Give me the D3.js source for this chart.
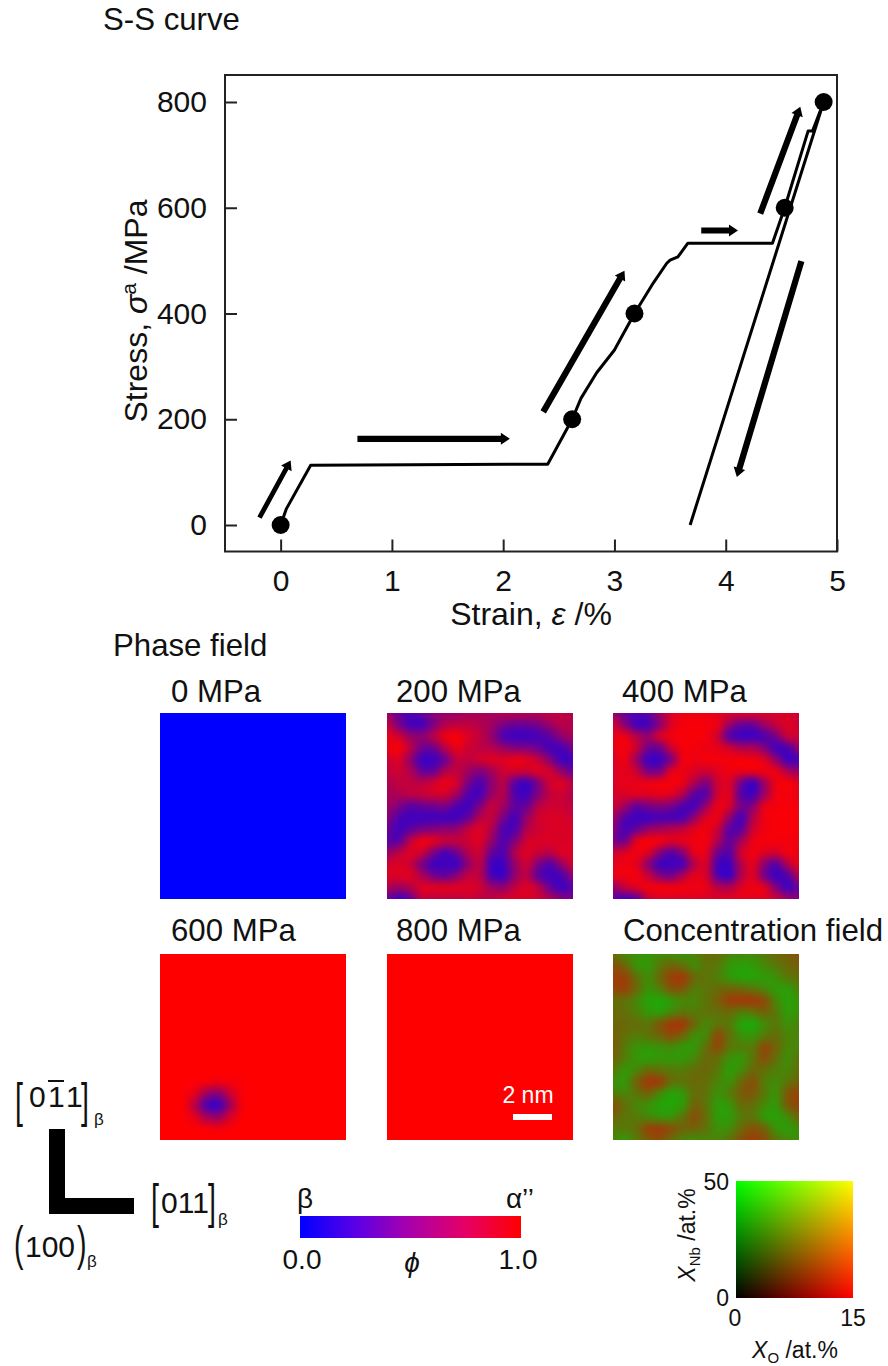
<!DOCTYPE html>
<html><head><meta charset="utf-8">
<script src="https://cdn.jsdelivr.net/npm/d3@7/dist/d3.min.js"></script>
<style>html,body{margin:0;padding:0;background:#fff}svg{display:block}text{font-family:"Liberation Sans",Arial,sans-serif;fill:#111}</style>
</head><body><svg id="c" width="888" height="1366"></svg>
<script>
// ---------- data ----------
const xTicks = [0,1,2,3,4,5];
const yTicks = [0,200,400,600,800];
const curveStrain = [0,0.05,0.27,2.40,2.62,2.70,2.84,3.00,3.06,3.18,3.35,3.47,3.50,3.57,3.66,4.42,4.53,4.74,4.78,4.88,3.68];
const curveStress = [0,30,113,115,200,240,288,331,354,400,458,495,501,507,533,533,600,745,745,800,0];
const pointStrain = [0,2.62,3.18,4.53,4.88];
const pointStress = [0,200,400,600,800];
const arrowFromStrain = [-0.19,0.69,2.36,3.78,4.31,4.68];
const arrowFromStress = [14,163,214,557,589,499];
const arrowToStrain = [0.09,2.06,3.09,4.11,4.67,4.10];
const arrowToStress = [122,163,481,557,791,91];
const phase0 = [[0]];
const phase800 = [[1]];
const phase200 = [
[.60,.42,.32,.38,.52,.58,.60,.65,.65,.65,.70,.70,.70,.70,.75,.75,.70],
[.75,.50,.30,.30,.50,.70,.75,.75,.70,.62,.48,.42,.42,.48,.60,.70,.70],
[.90,.80,.60,.55,.70,.90,.95,.85,.75,.58,.33,.27,.27,.30,.38,.55,.65],
[.90,.95,.72,.45,.45,.72,.90,.80,.75,.70,.60,.52,.50,.42,.30,.30,.45],
[.80,.85,.58,.28,.27,.45,.75,.75,.80,.85,.85,.90,.85,.75,.52,.28,.28],
[.75,.80,.68,.42,.42,.68,.75,.62,.52,.65,.80,.80,.78,.85,.80,.58,.42],
[.70,.75,.75,.72,.80,.90,.80,.48,.33,.55,.70,.38,.28,.52,.80,.85,.70],
[.65,.68,.72,.75,.80,.80,.62,.33,.30,.60,.68,.33,.28,.52,.75,.80,.70],
[.62,.50,.38,.42,.45,.48,.33,.28,.50,.75,.62,.38,.42,.70,.80,.80,.75],
[.52,.33,.27,.27,.28,.28,.28,.42,.70,.75,.48,.30,.58,.80,.85,.85,.80],
[.42,.28,.38,.48,.52,.55,.58,.75,.85,.68,.33,.33,.68,.80,.85,.85,.85],
[.38,.38,.72,.90,.85,.75,.75,.80,.85,.58,.33,.52,.80,.85,.85,.85,.85],
[.60,.72,.85,.78,.50,.33,.45,.70,.78,.42,.33,.68,.85,.78,.72,.85,.85],
[.80,.85,.78,.50,.28,.27,.28,.58,.72,.28,.27,.58,.78,.50,.36,.58,.80],
[.85,.85,.85,.68,.48,.42,.55,.75,.72,.32,.27,.58,.72,.40,.27,.32,.55],
[.68,.62,.70,.85,.85,.85,.85,.85,.80,.62,.58,.75,.85,.72,.42,.28,.36],
[.42,.28,.42,.75,.75,.75,.75,.80,.75,.75,.80,.85,.85,.80,.68,.52,.48]];
const phase400 = [
[.60,.42,.32,.38,.60,.85,.93,.93,.93,.90,.85,.85,.85,.85,.85,.85,.80],
[.80,.55,.30,.30,.55,.85,.95,.97,.95,.90,.60,.43,.43,.60,.75,.85,.80],
[.90,.90,.70,.58,.80,.93,.97,.97,.95,.80,.38,.27,.27,.33,.48,.75,.80],
[.90,.95,.78,.46,.46,.78,.95,.95,.93,.90,.80,.68,.66,.52,.29,.33,.58],
[.85,.92,.62,.28,.27,.52,.92,.93,.95,.95,.95,.95,.93,.85,.58,.29,.32],
[.85,.90,.78,.50,.50,.85,.92,.85,.80,.88,.93,.90,.90,.92,.90,.68,.58],
[.85,.90,.90,.90,.92,.95,.90,.68,.52,.80,.85,.47,.29,.62,.92,.95,.88],
[.82,.85,.85,.85,.88,.85,.68,.38,.38,.80,.85,.38,.29,.62,.92,.95,.92],
[.78,.62,.42,.48,.52,.48,.33,.31,.60,.90,.82,.47,.52,.88,.95,.97,.95],
[.62,.36,.27,.27,.31,.31,.33,.58,.85,.90,.58,.31,.68,.92,.97,.97,.97],
[.52,.30,.42,.58,.65,.70,.75,.88,.93,.78,.38,.38,.78,.93,.97,.97,.97],
[.48,.46,.85,.95,.92,.85,.88,.93,.93,.68,.40,.62,.90,.95,.95,.95,.95],
[.78,.85,.93,.85,.55,.38,.55,.88,.88,.46,.36,.78,.93,.86,.82,.93,.93],
[.88,.93,.88,.58,.29,.27,.33,.72,.82,.30,.27,.68,.88,.56,.38,.68,.90],
[.90,.93,.93,.78,.55,.48,.68,.88,.82,.36,.27,.68,.86,.50,.27,.35,.68],
[.58,.75,.85,.93,.93,.93,.93,.93,.90,.72,.68,.85,.93,.86,.52,.29,.42],
[.38,.29,.38,.75,.85,.85,.85,.88,.85,.85,.88,.90,.90,.88,.78,.62,.52]];
const phase600 = [
[1,1,1,1,1,1,1,1,1,1,1,1,1,1,1,1,1],[1,1,1,1,1,1,1,1,1,1,1,1,1,1,1,1,1],
[1,1,1,1,1,1,1,1,1,1,1,1,1,1,1,1,1],[1,1,1,1,1,1,1,1,1,1,1,1,1,1,1,1,1],
[1,1,1,1,1,1,1,1,1,1,1,1,1,1,1,1,1],[1,1,1,1,1,1,1,1,1,1,1,1,1,1,1,1,1],
[1,1,1,1,1,1,1,1,1,1,1,1,1,1,1,1,1],[1,1,1,1,1,1,1,1,1,1,1,1,1,1,1,1,1],
[1,1,1,1,1,1,1,1,1,1,1,1,1,1,1,1,1],[1,1,1,1,1,1,1,1,1,1,1,1,1,1,1,1,1],
[1,1,1,1,1,1,1,1,1,1,1,1,1,1,1,1,1],
[1,1,1,.98,.95,.92,.95,.98,1,1,1,1,1,1,1,1,1],
[1,1,.98,.88,.62,.55,.78,.96,1,1,1,1,1,1,1,1,1],
[1,1,.97,.72,.34,.28,.62,.94,1,1,1,1,1,1,1,1,1],
[1,1,.98,.88,.65,.60,.82,.97,1,1,1,1,1,1,1,1,1],
[1,1,1,.98,.95,.93,.97,1,1,1,1,1,1,1,1,1,1],
[1,1,1,1,1,1,1,1,1,1,1,1,1,1,1,1,1]];
// green (Nb-rich) fraction of the concentration field: 1 = green, 0 = brown
const concentration = [
[.50,.70,.80,.85,.75,.75,.80,.70,.50,.50,.70,.75,.75,.60,.45,.35,.25],
[.20,.40,.80,.85,.60,.40,.50,.70,.55,.60,.85,.95,.90,.75,.60,.45,.35],
[.05,.10,.50,.75,.45,.10,.05,.45,.55,.65,.85,.95,.95,.90,.80,.60,.50],
[.15,.10,.45,.80,.65,.30,.30,.60,.55,.45,.40,.45,.55,.70,.90,.90,.70],
[.45,.50,.70,.95,1.0,.85,.70,.70,.55,.35,.10,.05,.05,.20,.70,.95,.85],
[.45,.50,.65,.85,.90,.70,.55,.60,.55,.50,.45,.60,.55,.40,.60,.90,.85],
[.40,.45,.50,.55,.30,.05,.05,.45,.70,.55,.60,.95,1.0,.75,.60,.80,.70],
[.35,.50,.60,.55,.40,.20,.40,.75,.70,.20,.50,.80,.85,.60,.50,.70,.70],
[.30,.60,.80,.85,.80,.75,.85,.85,.50,.20,.55,.65,.60,.20,.40,.70,.70],
[.40,.65,.85,.90,.85,.85,.85,.70,.45,.50,.80,.85,.55,.25,.50,.75,.55],
[.60,.85,.70,.45,.50,.60,.60,.50,.45,.60,.90,.75,.45,.50,.65,.70,.50],
[.80,.85,.40,.05,.10,.50,.55,.45,.50,.70,.80,.45,.25,.60,.75,.55,.35],
[.60,.70,.55,.40,.70,.95,.85,.50,.55,.80,.65,.35,.30,.60,.80,.30,.10],
[.25,.50,.70,.80,.95,1.0,.85,.40,.55,.90,.85,.50,.50,.75,.85,.35,.10],
[.40,.55,.60,.70,.80,.80,.55,.25,.50,.90,.90,.60,.55,.85,.95,.75,.40],
[.60,.60,.50,.15,.10,.25,.40,.40,.55,.80,.75,.45,.25,.40,.80,.90,.75],
[.70,.85,.60,.30,.20,.45,.70,.75,.70,.70,.55,.20,.05,.20,.55,.75,.80]];
const phaseTitles = ["0 MPa","200 MPa","400 MPa","600 MPa","800 MPa"];
const phaseGrids = [phase0,phase200,phase400,phase600,phase800];
const phaseDomain = [0,1];
const barStops = [0,.25,.5,.75,1];
const barColors = ["#0000ff","#5a00e6","#aa00aa","#e60064","#ff0000"];
const xoDomain = [0,15];
const xnbDomain = [0,50];

// ---------- scaffold ----------
const svg = d3.select("#c");
const FS = 31.2;
const label = (x,y,s,fs=FS,anchor="start") => svg.append("text").attr("x",x).attr("y",y).attr("font-size",fs).attr("text-anchor",anchor).text(s);

label(103,30,"S-S curve");
label(113,656,"Phase field");

// ---------- S-S chart ----------
const x = d3.scaleLinear().domain([-0.5,5]).range([225,837]);
const y = d3.scaleLinear().domain([0,800]).range([525,102]);
const bottomY = 551.5;
svg.append("rect").attr("x",225).attr("y",75).attr("width",612).attr("height",bottomY-75).attr("fill","none").attr("stroke","#222").attr("stroke-width",2);
const gx = svg.append("g").attr("transform",`translate(0,${bottomY})`).call(d3.axisBottom(x).tickValues(xTicks).tickFormat(d3.format("d")).tickSizeInner(-12).tickSizeOuter(0).tickPadding(18));
const gy = svg.append("g").attr("transform","translate(225,0)").call(d3.axisLeft(y).tickValues(yTicks).tickFormat(d3.format("d")).tickSizeInner(-12).tickSizeOuter(0).tickPadding(18));
[gx,gy].forEach(g=>{g.select(".domain").remove();g.selectAll("line").attr("stroke","#222").attr("stroke-width",2);g.selectAll("text").attr("font-size",30);});

const line = d3.line().x(i=>x(curveStrain[i])).y(i=>y(curveStress[i]));
svg.append("path").attr("d",line(d3.range(curveStrain.length))).attr("fill","none").attr("stroke","#000").attr("stroke-width",3).attr("stroke-linejoin","round");
svg.append("g").selectAll("circle").data(pointStrain).join("circle").attr("cx",d=>x(d)).attr("cy",(d,i)=>y(pointStress[i])).attr("r",9).attr("fill","#000");

arrowFromStrain.forEach((_,i)=>{
  const x0=x(arrowFromStrain[i]),y0=y(arrowFromStress[i]),x1=x(arrowToStrain[i]),y1=y(arrowToStress[i]);
  const L=Math.hypot(x1-x0,y1-y0),ux=(x1-x0)/L,uy=(y1-y0)/L,nx=-uy,ny=ux;
  const w=i===0?2.4:3.1,hl=9,hw=6;
  const bx=x1-ux*hl,by=y1-uy*hl;
  const pts=[[x0+nx*w,y0+ny*w],[bx+nx*w,by+ny*w],[bx+nx*hw,by+ny*hw],[x1,y1],[bx-nx*hw,by-ny*hw],[bx-nx*w,by-ny*w],[x0-nx*w,y0-ny*w]];
  svg.append("path").attr("d",d3.line()(pts)+"Z").attr("fill","#000");
});

const xl = svg.append("text").attr("x",531).attr("y",625).attr("text-anchor","middle").attr("font-size",32);
xl.append("tspan").text("Strain, ");xl.append("tspan").attr("font-style","italic").text("ε");xl.append("tspan").text(" /%");
const yl = svg.append("text").attr("transform","translate(147,311) rotate(-90)").attr("text-anchor","middle").attr("font-size",32);
yl.append("tspan").text("Stress, ");yl.append("tspan").attr("font-style","italic").text("σ");
yl.append("tspan").attr("baseline-shift","super").attr("font-size",21).text("a");yl.append("tspan").text(" /MPa");

// ---------- heat maps ----------
function cr(p0,p1,p2,p3,t){return 0.5*((2*p1)+(-p0+p2)*t+(2*p0-5*p1+4*p2-p3)*t*t+(-p0+3*p1-3*p2+p3)*t*t*t);}
function sample(g,u,v){
  const n=g.length-1,m=g[0].length-1;
  if(n===0&&m===0)return g[0][0];
  const fy=v*n,fx=u*m,iy=Math.min(Math.floor(fy),n-1),ix=Math.min(Math.floor(fx),m-1),ty=fy-iy,tx=fx-ix;
  const cl=(a,b)=>Math.max(0,Math.min(b,a));
  const row=[-1,0,1,2].map(dy=>{const r=g[cl(iy+dy,n)];return cr(r[cl(ix-1,m)],r[ix],r[ix+1],r[cl(ix+2,m)],tx);});
  return cr(row[0],row[1],row[2],row[3],ty);
}
function drawField(px,py,size,colorAt){
  const cv=document.createElement("canvas");cv.width=size;cv.height=size;
  const ctx=cv.getContext("2d"),im=ctx.createImageData(size,size);
  for(let j=0;j<size;j++)for(let i=0;i<size;i++){
    const c=d3.rgb(colorAt((i+.5)/size,(j+.5)/size)),k=(j*size+i)*4;
    im.data[k]=c.r;im.data[k+1]=c.g;im.data[k+2]=c.b;im.data[k+3]=255;
  }
  ctx.putImageData(im,0,0);
  svg.append("image").attr("x",px).attr("y",py).attr("width",size).attr("height",size).attr("href",cv.toDataURL());
}
const phaseColor = d3.scaleLinear().domain(phaseDomain).range(["#0000ff","#ff0000"]).clamp(true);
const concColor = d3.scaleLinear().domain([0,1.2]).range(["#a03a08","#0cb808"]).clamp(true);
const colX=[160,387,613],rowY=[713,954],panel=186;
phaseGrids.forEach((g,i)=>{
  const px=colX[i%3],py=rowY[Math.floor(i/3)];
  drawField(px,py,panel,(u,v)=>phaseColor(sample(g,u,v)));
  label(px+(i%3===0?11:9),py-11-(i>2?2:0),phaseTitles[i]);
});
drawField(colX[2],rowY[1],panel,(u,v)=>concColor(sample(concentration,u,v)));
label(623,941,"Concentration field");

// scale bar
svg.append("rect").attr("x",513).attr("y",1114).attr("width",39).attr("height",6).attr("fill","#fff");
label(528,1103,"2 nm",23,"middle").style("fill","#fff");

// ---------- orientation ----------
svg.append("path").attr("d","M49 1129H65V1198H134V1214H49Z").attr("fill","#000");
function bracket(ch,xp,base){
  svg.append("text").attr("transform",`translate(${xp},${base}) scale(.62,1.05)`).attr("font-size",46).attr("fill","#222").text(ch);
}
function sub(xp,base){label(xp,base,"β",17);}
// [0 1-bar 1] beta
bracket("[",15,1117);label(29,1107,"0",30);label(48,1107,"1",30);label(66,1107,"1",30);bracket("]",81,1117);sub(94,1125);
svg.append("line").attr("x1",48).attr("x2",64).attr("y1",1081).attr("y2",1081).attr("stroke","#111").attr("stroke-width",2);
// [011] beta
bracket("[",151,1218);label(161,1213,"011",30);bracket("]",208,1218);sub(218,1225);
// (100) beta
bracket("(",14,1260);label(25,1257,"100",30);bracket(")",77,1260);sub(87,1267);

// ---------- colour bar ----------
const barX=d3.scaleLinear().domain(phaseDomain).range([300,521]);
const grad=svg.append("defs").append("linearGradient").attr("id","phi");
grad.selectAll("stop").data(barStops).join("stop").attr("offset",d=>d*100+"%").attr("stop-color",(d,i)=>barColors[i]);
svg.append("rect").attr("x",barX(0)).attr("y",1216).attr("width",barX(1)-barX(0)).attr("height",22).attr("fill","url(#phi)");
label(297,1208,"β",28);
label(534,1208,"α’’",28,"end");
label(302,1269,"0.0",28,"middle");
label(518,1269,"1.0",28,"middle");
label(412,1272,"ϕ",28,"middle").attr("font-style","italic");

// ---------- 2-D colour key ----------
const keyX=d3.scaleLinear().domain([0,1]).range(xoDomain);
const keyY=d3.scaleLinear().domain([0,1]).range(xnbDomain);
const redOf=d3.scaleLinear().domain(xoDomain).range([0,255]);
const greenOf=d3.scaleLinear().domain(xnbDomain).range([0,255]);
drawField(736,1181,117,(u,v)=>d3.rgb(redOf(keyX(u)),greenOf(keyY(1-v)),0));
label(729,1190,"50",23,"end");
label(729,1306,"0",23,"end");
label(735,1326,"0",23,"middle");
label(853,1326,"15",23,"middle");
const xo=svg.append("text").attr("x",795).attr("y",1358).attr("text-anchor","middle").attr("font-size",23);
xo.append("tspan").attr("font-style","italic").text("X");xo.append("tspan").attr("font-size",15).attr("dy",5).text("O");xo.append("tspan").attr("dy",-5).text(" /at.%");
const xn=svg.append("text").attr("transform","translate(695,1235) rotate(-90)").attr("text-anchor","middle").attr("font-size",23);
xn.append("tspan").attr("font-style","italic").text("X");xn.append("tspan").attr("font-size",15).attr("dy",5).text("Nb");xn.append("tspan").attr("dy",-5).text(" /at.%");
</script></body></html>
